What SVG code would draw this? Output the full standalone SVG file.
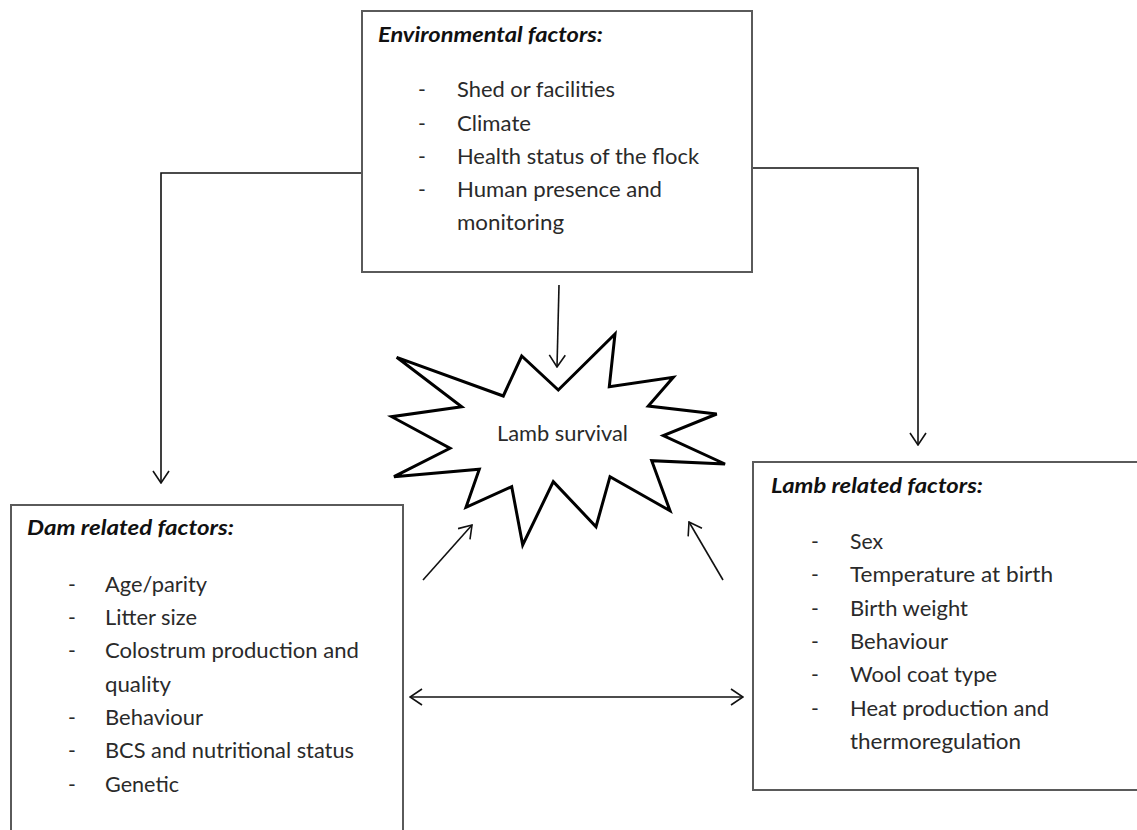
<svg xmlns="http://www.w3.org/2000/svg" width="1137" height="830" viewBox="0 0 1137 830">
<defs>
<marker id="arr" viewBox="0 0 14 18" refX="13" refY="9" markerWidth="14" markerHeight="18" markerUnits="userSpaceOnUse" orient="auto-start-reverse">
<path d="M1,1 L13,9 L1,17" fill="none" stroke="#111" stroke-width="1.6"/>
</marker>
</defs>
<style>
.box{fill:#fff;stroke:#5a5a5a;stroke-width:2}
.ttl{font-family:Lato,"Liberation Sans",sans-serif;font-weight:bold;font-style:italic;font-size:21px;fill:#111}
.itm{font-family:Lato,"Liberation Sans",sans-serif;font-size:21px;fill:#2a2a2a}
.con{fill:none;stroke:#111;stroke-width:1.6}
.star{fill:#fff;stroke:#000;stroke-width:3;stroke-linejoin:miter}
</style>
<rect width="1137" height="830" fill="#fff"/>
<g id="connectors">
<polyline class="con" points="362,173 161,173 161,483" marker-end="url(#arr)"/>
<polyline class="con" points="752,168 918,168 918,445" marker-end="url(#arr)"/>
<line class="con" x1="559" y1="285" x2="557" y2="367" marker-end="url(#arr)"/>
<line class="con" x1="423" y1="580" x2="472" y2="525" marker-end="url(#arr)"/>
<line class="con" x1="723" y1="580" x2="689" y2="522" marker-end="url(#arr)"/>
<line class="con" x1="410" y1="697" x2="743" y2="697" marker-start="url(#arr)" marker-end="url(#arr)"/>
</g>
<g id="env">
<rect class="box" x="362" y="11" width="390" height="261"/>
<text class="ttl" x="378" y="42" textLength="225" lengthAdjust="spacingAndGlyphs">Environmental factors:</text>
<g class="itm">
<text x="418" y="97">-</text><text x="457" y="97" textLength="158" lengthAdjust="spacingAndGlyphs">Shed or facilities</text>
<text x="418" y="131">-</text><text x="457" y="131" textLength="74" lengthAdjust="spacingAndGlyphs">Climate</text>
<text x="418" y="164">-</text><text x="457" y="164" textLength="242" lengthAdjust="spacingAndGlyphs">Health status of the flock</text>
<text x="418" y="197">-</text><text x="457" y="197" textLength="205" lengthAdjust="spacingAndGlyphs">Human presence and</text>
<text x="457" y="230" textLength="107" lengthAdjust="spacingAndGlyphs">monitoring</text>
</g>
</g>
<g id="survival">
<polygon class="star" points="396.7,357.3 503.3,396 521.7,356 558.3,390 615,334 609.3,386.7 673.3,377.3 648.3,406 716.7,414 663.3,435.7 725,464 651.7,460.7 670,510.7 610,476.7 596,526.7 553.3,481.7 522.7,545 511.7,486.7 466,507.3 479.3,469.3 394,476.7 450,448.3 391.7,416.7 461.7,406.7"/>
<text class="itm" x="497" y="441" textLength="131" lengthAdjust="spacingAndGlyphs">Lamb survival</text>
</g>
<g id="dam">
<rect class="box" x="11" y="505" width="392" height="340"/>
<text class="ttl" x="27" y="535" textLength="207" lengthAdjust="spacingAndGlyphs">Dam related factors:</text>
<g class="itm">
<text x="68" y="592">-</text><text x="105" y="592" textLength="102" lengthAdjust="spacingAndGlyphs">Age/parity</text>
<text x="68" y="625">-</text><text x="105" y="625" textLength="92" lengthAdjust="spacingAndGlyphs">Litter size</text>
<text x="68" y="658">-</text><text x="105" y="658" textLength="254" lengthAdjust="spacingAndGlyphs">Colostrum production and</text>
<text x="105" y="692" textLength="66" lengthAdjust="spacingAndGlyphs">quality</text>
<text x="68" y="725">-</text><text x="105" y="725" textLength="98" lengthAdjust="spacingAndGlyphs">Behaviour</text>
<text x="68" y="758">-</text><text x="105" y="758" textLength="249" lengthAdjust="spacingAndGlyphs">BCS and nutritional status</text>
<text x="68" y="792">-</text><text x="105" y="792" textLength="74" lengthAdjust="spacingAndGlyphs">Genetic</text>
</g>
</g>
<g id="lamb">
<rect class="box" x="753" y="462" width="400" height="328"/>
<text class="ttl" x="771" y="493" textLength="212" lengthAdjust="spacingAndGlyphs">Lamb related factors:</text>
<g class="itm">
<text x="811" y="549">-</text><text x="850" y="549" textLength="33" lengthAdjust="spacingAndGlyphs">Sex</text>
<text x="811" y="582">-</text><text x="850" y="582" textLength="203" lengthAdjust="spacingAndGlyphs">Temperature at birth</text>
<text x="811" y="616">-</text><text x="850" y="616" textLength="118" lengthAdjust="spacingAndGlyphs">Birth weight</text>
<text x="811" y="649">-</text><text x="850" y="649" textLength="98" lengthAdjust="spacingAndGlyphs">Behaviour</text>
<text x="811" y="682">-</text><text x="850" y="682" textLength="147" lengthAdjust="spacingAndGlyphs">Wool coat type</text>
<text x="811" y="716">-</text><text x="850" y="716" textLength="199" lengthAdjust="spacingAndGlyphs">Heat production and</text>
<text x="850" y="749" textLength="171" lengthAdjust="spacingAndGlyphs">thermoregulation</text>
</g>
</g>
</svg>
